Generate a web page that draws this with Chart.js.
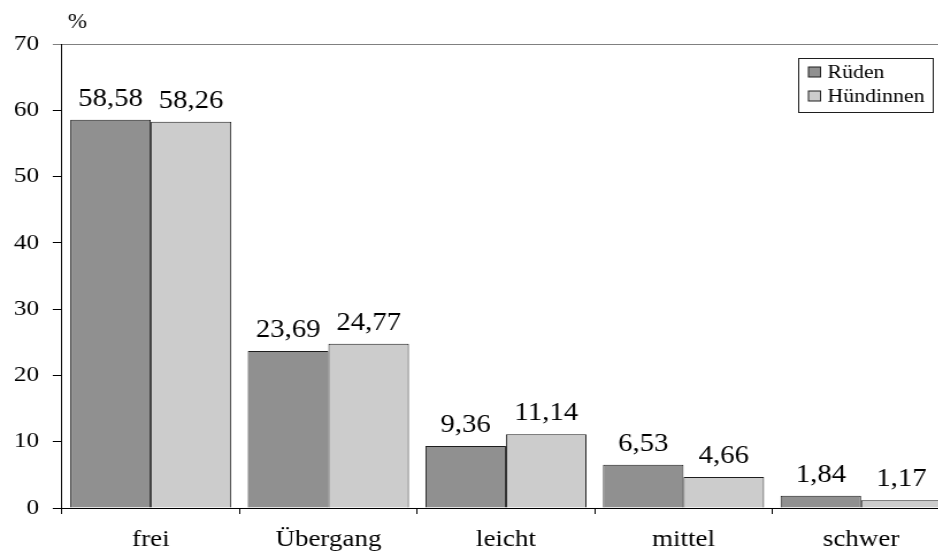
<!DOCTYPE html>
<html lang="de">
<head>
<meta charset="utf-8">
<title>Rüden und Hündinnen</title>
<script src="https://cdn.jsdelivr.net/npm/chart.js@4/dist/chart.umd.min.js"></script>
<style>
  html, body { margin: 0; padding: 0; background: #fff; overflow: hidden; }
  /* the drawing is widened horizontally, serif text included */
  #wrap { position: relative; width: 826px; height: 553px; transform: scaleX(1.15); transform-origin: 0 0; }
</style>
</head>
<body>
<div id="wrap"><canvas id="c"></canvas></div>
<script>
const categories = ['frei', 'Übergang', 'leicht', 'mittel', 'schwer'];
const rueden = [58.58, 23.69, 9.36, 6.53, 1.84];
const huendinnen = [58.26, 24.77, 11.14, 4.66, 1.17];
const seriesNames = ['Rüden', 'Hündinnen'];
const yTicks = [0, 10, 20, 30, 40, 50, 60, 70];
const unitLabel = '%';

const SERIF = '"Liberation Serif", "Times New Roman", serif';
const DARK = '#909090';
const LIGHT = '#cccccc';
const EDGE = '#1e1e1e';

const fmt = v => v.toFixed(2).replace('.', ',');

// value labels above each bar, unit caption and the boxed legend
const annotate = {
  id: 'annotate',
  afterDatasetsDraw(chart) {
    const ctx = chart.ctx;
    ctx.save();
    ctx.fillStyle = '#000';
    ctx.font = '25px ' + SERIF;
    ctx.textAlign = 'center';
    ctx.textBaseline = 'alphabetic';
    chart.data.datasets.forEach((ds, i) => {
      chart.getDatasetMeta(i).data.forEach((bar, j) => {
        ctx.fillText(fmt(ds.data[j]), bar.x, bar.y - 14);
      });
    });

    ctx.font = '20px ' + SERIF;
    ctx.textAlign = 'left';
    ctx.textBaseline = 'middle';
    ctx.fillText(unitLabel, 59, 23);

    // legend
    const bx = 694.5, by = 58.5, bw = 117, bh = 54;
    ctx.fillStyle = '#fff';
    ctx.fillRect(bx, by, bw, bh);
    ctx.strokeStyle = EDGE;
    ctx.lineWidth = 1;
    ctx.strokeRect(bx, by, bw, bh);
    ctx.font = '19px ' + SERIF;
    ctx.textBaseline = 'alphabetic';
    const rows = [77.5, 101.5];
    chart.data.datasets.forEach((ds, i) => {
      const base = rows[i];
      ctx.fillStyle = ds.backgroundColor;
      ctx.fillRect(703, base - 10.5, 10.5, 10);
      ctx.strokeStyle = EDGE;
      ctx.strokeRect(703, base - 10.5, 10.5, 10);
      ctx.fillStyle = '#000';
      ctx.fillText(ds.label, 719.5, base);
    });
    ctx.restore();
  }
};

new Chart(document.getElementById('c'), {
  type: 'bar',
  data: {
    labels: categories,
    datasets: [
      { label: seriesNames[0], data: rueden, backgroundColor: DARK, borderColor: EDGE, borderWidth: 1 },
      { label: seriesNames[1], data: huendinnen, backgroundColor: LIGHT, borderColor: EDGE, borderWidth: 1 }
    ]
  },
  options: {
    responsive: true,
    maintainAspectRatio: false,
    animation: false,
    events: [],
    layout: { padding: { top: 44, right: 0, bottom: 0, left: 0 } },
    datasets: { bar: { categoryPercentage: 0.907, barPercentage: 1.0 } },
    plugins: { legend: { display: false }, tooltip: { enabled: false } },
    scales: {
      x: {
        afterFit(s) { s.height = 45; },
        grid: { drawOnChartArea: false, drawTicks: true, tickLength: 6, color: '#000', offset: true },
        border: { display: true, color: '#000', width: 1 },
        ticks: { color: '#000', font: { family: SERIF, size: 23.5 }, padding: 12 }
      },
      y: {
        min: yTicks[0],
        max: yTicks[yTicks.length - 1],
        afterFit(s) { s.width = 53.9; },
        afterBuildTicks(s) { s.ticks = yTicks.map(v => ({ value: v })); },
        grid: {
          drawOnChartArea: true,
          tickLength: 8,
          color: c => (c.tick && c.tick.value === 70 ? '#808080' : 'rgba(0,0,0,0)'),
          tickColor: c => (c.tick && c.tick.value === 70 ? '#808080' : '#000')
        },
        border: { display: true, color: '#000', width: 1 },
        ticks: { color: '#000', font: { family: SERIF, size: 22 }, padding: 12 }
      }
    }
  },
  plugins: [annotate]
});
</script>
</body>
</html>
